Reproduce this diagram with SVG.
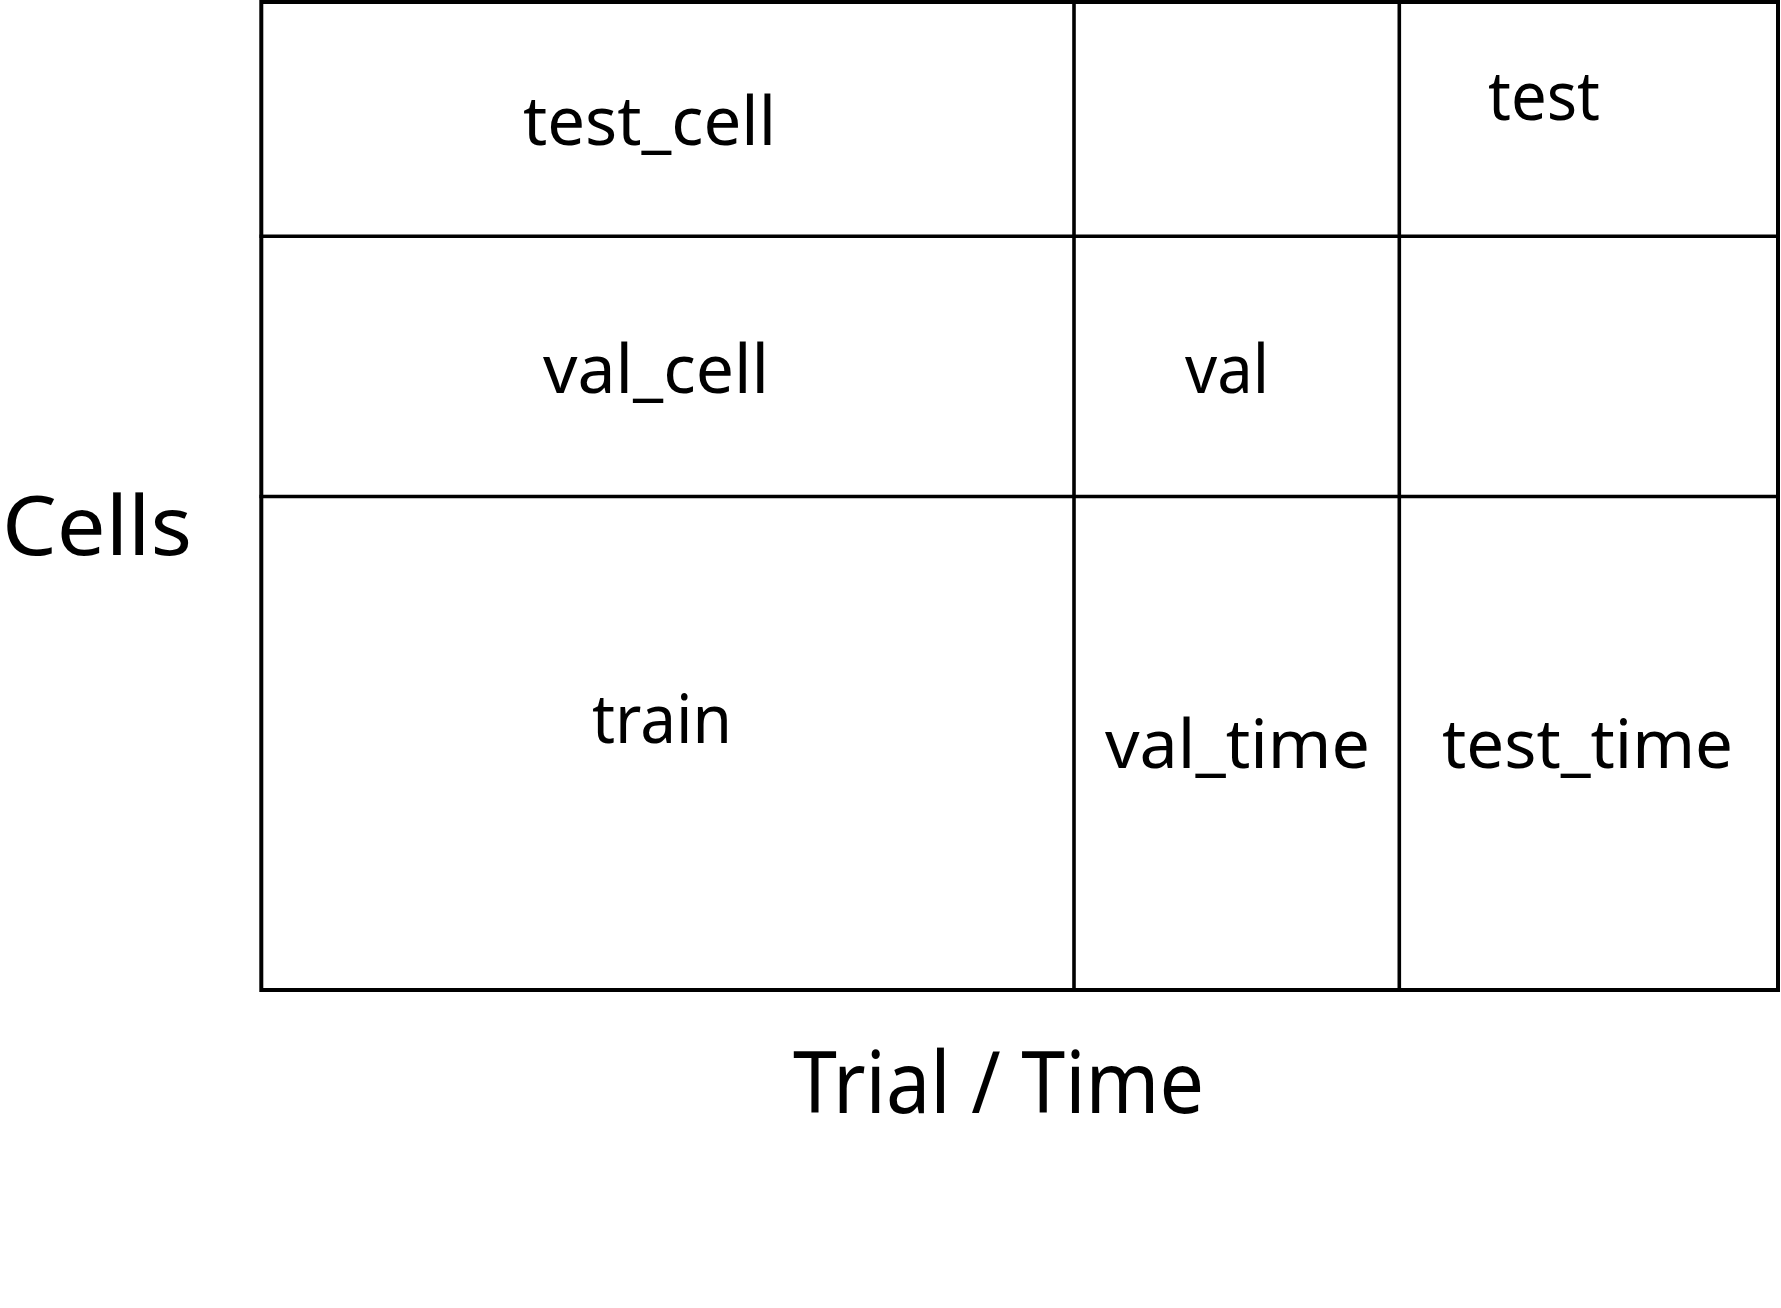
<svg xmlns="http://www.w3.org/2000/svg" width="1781" height="1308" viewBox="0 0 1781 1308">
  <style>
    .grid line { stroke: #000; stroke-width: 3.6; stroke-linecap: square; }
    .frame { fill: none; stroke: #000; stroke-width: 4; }
    .lbl { font-family: "Noto Sans", "Open Sans", sans-serif; font-size: 68px; fill: #000; }
    .axis { font-family: "Noto Sans", "Open Sans", sans-serif; fill: #000; }
  </style>
  <rect width="1781" height="1308" fill="#fff"/>

  <!-- table rules -->
  <g id="grid" class="grid">
    <rect class="frame" x="261.3" y="2" width="1516.7" height="988"/>
    <line x1="1074" y1="2" x2="1074" y2="990"/>
    <line x1="1399.3" y1="2" x2="1399.3" y2="990"/>
    <line x1="261.3" y1="236.3" x2="1778" y2="236.3"/>
    <line x1="261.3" y1="496.5" x2="1778" y2="496.5"/>
  </g>

  <!-- row 1 -->
  <g id="cell-test_cell"><text class="lbl" x="523" y="145" textLength="253" lengthAdjust="spacingAndGlyphs">test_cell</text></g>
  <g id="cell-test"><text class="lbl" x="1488" y="120" textLength="112" lengthAdjust="spacingAndGlyphs">test</text></g>

  <!-- row 2 -->
  <g id="cell-val_cell"><text class="lbl" x="543" y="393" textLength="226" lengthAdjust="spacingAndGlyphs">val_cell</text></g>
  <g id="cell-val"><text class="lbl" x="1185" y="393" textLength="84" lengthAdjust="spacingAndGlyphs">val</text></g>

  <!-- row 3 -->
  <g id="cell-train"><text class="lbl" x="592" y="743" textLength="140" lengthAdjust="spacingAndGlyphs">train</text></g>
  <g id="cell-val_time"><text class="lbl" x="1105" y="768" textLength="265" lengthAdjust="spacingAndGlyphs">val_time</text></g>
  <g id="cell-test_time"><text class="lbl" x="1442" y="768" textLength="291" lengthAdjust="spacingAndGlyphs">test_time</text></g>

  <!-- axis titles -->
  <g id="axis-y"><text class="axis" x="2" y="555" font-size="82" textLength="190" lengthAdjust="spacingAndGlyphs">Cells</text></g>
  <g id="axis-x"><text class="axis" x="793" y="1113" font-size="86" textLength="411" lengthAdjust="spacingAndGlyphs">Trial / Time</text></g>
</svg>
